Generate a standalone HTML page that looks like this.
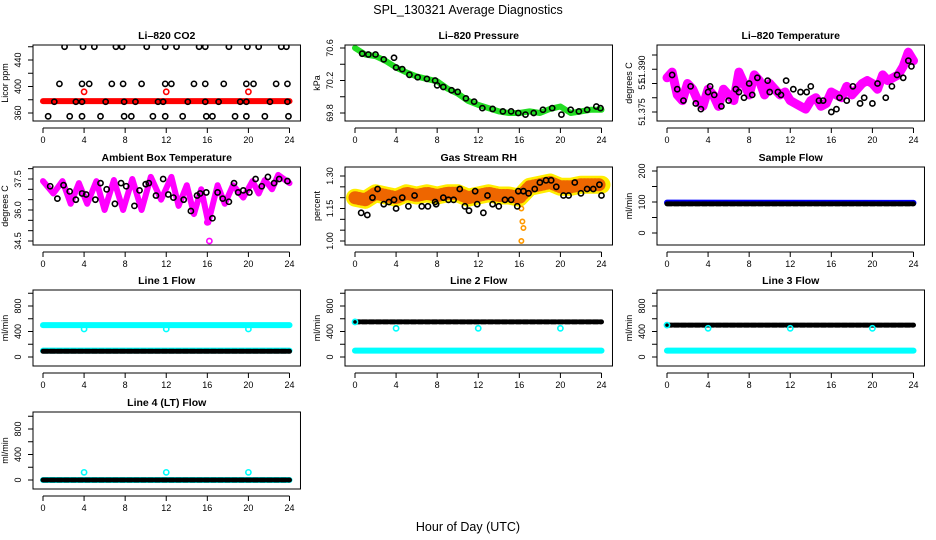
<!DOCTYPE html>
<html><head><meta charset="utf-8">
<style>
body{margin:0;background:#fff;}
svg{display:block;font-family:"Liberation Sans",Arial,sans-serif;}
</style></head>
<body>
<svg id="chart" width="936" height="540" viewBox="0 0 936 540" xmlns="http://www.w3.org/2000/svg">
<text x="468" y="14" text-anchor="middle" font-size="12.5">SPL_130321  Average Diagnostics</text>
<text x="468" y="531" text-anchor="middle" font-size="12.5">Hour of Day (UTC)</text>
</svg>
<script>
// ---- data ----
const xTicks=[0,4,8,12,16,20,24];
// CO2
const co2BandT=[0,24];
const co2BandV=[378,378];
const co2TopT=[2.1,3.9,5.0,7.1,7.7,10.1,11.9,13.0,15.2,15.8,18.1,19.9,21.0,23.2,23.7];
const co2MidT=[1.6,3.8,4.5,6.7,7.8,9.6,11.9,12.5,14.7,15.8,17.6,19.8,20.5,22.7,23.8];
const co2LowT=[1.1,3.2,3.8,6.1,7.9,9.0,11.2,11.7,14.1,15.8,17.1,19.2,19.8,22.1,23.8];
const co2BotT=[0.5,2.6,3.8,5.6,7.9,8.6,10.7,11.9,13.6,15.9,16.5,18.7,19.8,21.6,23.9];
const co2RedT=[4,12,20];
const co2Levels=[460,404,377,355,392];
// Pressure
const presT=[0,1,2,3,4,5,6,7,8,9,10,11,12,13,14,15,16,17,18,19,20,21,22,23,24];
const presV=[70.6,70.52,70.5,70.44,70.36,70.3,70.25,70.22,70.19,70.1,70.04,69.95,69.9,69.86,69.82,69.8,69.8,69.82,69.8,69.85,69.88,69.8,69.82,69.84,69.84];
const presCT=[0.7,1.3,2,2.8,3.8,4,4.6,5.3,6.1,7,7.8,8,8.6,9.4,10,10.8,11.6,12.4,13.4,14.4,15.2,15.9,16.6,17.4,18.3,19.2,20.1,21,21.8,22.6,23.5,23.9];
const presCV=[70.53,70.52,70.52,70.46,70.48,70.36,70.34,70.27,70.24,70.22,70.2,70.14,70.12,70.08,70.06,69.98,69.94,69.86,69.85,69.82,69.82,69.8,69.78,69.8,69.84,69.86,69.78,69.84,69.82,69.84,69.88,69.86];
// Li-820 temperature
const tmpT=[0,0.5,1,1.5,2,2.5,3,3.5,4,4.5,5,5.5,6,6.5,7,7.5,8,8.5,9,9.5,10,10.5,11,11.5,12,12.5,13,13.5,14,14.5,15,15.5,16,16.5,17,17.5,18,18.5,19,19.5,20,20.5,21,21.5,22,22.5,23,23.5,24];
const tmpV=[51.382,51.384,51.376,51.374,51.380,51.378,51.374,51.372,51.378,51.376,51.372,51.378,51.376,51.374,51.384,51.380,51.376,51.383,51.381,51.376,51.380,51.378,51.376,51.377,51.374,51.373,51.372,51.371,51.374,51.375,51.372,51.373,51.377,51.376,51.375,51.379,51.376,51.378,51.380,51.381,51.380,51.378,51.383,51.381,51.382,51.383,51.386,51.391,51.388];
const tmpCT=[0.5,1,1.6,2.3,2.8,3.3,4,4.2,4.6,5.3,6,6.7,7,7.5,8,8.3,8.8,9.8,10,10.8,11.1,11.6,12.3,13,13.6,14,14.8,15.2,16,16.5,16.8,17.5,18.1,18.8,19.2,20,20.5,21.3,21.9,22.4,23,23.5,23.8];
const tmpCV=[51.383,51.378,51.374,51.379,51.373,51.371,51.377,51.379,51.376,51.372,51.374,51.378,51.377,51.375,51.380,51.376,51.382,51.381,51.377,51.377,51.376,51.381,51.378,51.377,51.377,51.379,51.374,51.374,51.370,51.371,51.375,51.374,51.379,51.373,51.375,51.373,51.380,51.375,51.379,51.383,51.382,51.388,51.386];
// Ambient box temperature
const ambT=[0,1,1.9,2.7,3.5,4.3,5.2,6,6.9,7.8,8.7,9.6,10.5,11.5,12.5,13.2,14,14.7,15.4,16.1,17,17.7,18.5,19.5,20.4,21,21.6,22.3,22.9,24];
const ambV=[37.4,36.8,37.4,36.3,37.3,36.3,37.4,36.0,37.45,36.0,37.5,36.0,37.6,36.5,37.6,36.2,37.2,35.8,37.0,35.4,37.2,36.3,37.2,36.6,37.4,36.8,37.45,37.0,37.7,37.3];
const ambCT=[0.7,1.4,2,2.6,3.2,3.8,4.2,5.1,5.6,6.2,7,7.6,8.1,8.9,9.4,10,10.3,11,11.7,12.2,12.7,13.7,14.4,15,15.3,15.9,16.5,17,17.5,18.1,18.6,19,19.5,20.1,20.7,21.3,21.9,22.5,23,23.8];
const ambCV=[37.15,36.55,37.2,36.9,36.5,36.8,36.75,36.5,37.3,37.0,36.3,37.3,37.15,36.2,36.95,37.25,37.3,36.7,37.5,36.75,36.6,36.5,35.95,36.7,36.8,36.85,35.6,36.85,36.55,36.4,37.3,36.85,36.95,36.85,37.5,37.15,37.6,37.3,37.5,37.4];
const ambOutT=[16.2,16.0];
const ambOutV=[34.5,35.4];
// Gas stream RH
const rhT=[0,1,2,3,4,5,6,7,8,9,10,11,12,13,14,15,16,17,18,19,20,21,22,23,24];
const rhV=[1.2,1.19,1.22,1.21,1.2,1.22,1.21,1.22,1.21,1.22,1.22,1.2,1.21,1.22,1.21,1.21,1.2,1.25,1.26,1.27,1.25,1.25,1.26,1.26,1.26];
const rhCT=[0.6,1.2,1.7,2.2,2.8,3.3,3.8,4,4.6,5.2,5.8,6.5,7.1,7.8,7.9,8.6,9.1,9.6,10.2,10.7,11.1,11.7,11.9,12.5,12.9,13.4,14,14.6,15.2,15.8,15.9,16.4,16.9,17.5,18,18.6,19.1,19.6,20.3,20.8,21.4,22,22.6,23.2,23.8,24];
const rhCV=[1.13,1.12,1.2,1.24,1.17,1.18,1.19,1.15,1.20,1.16,1.21,1.16,1.16,1.18,1.17,1.2,1.19,1.19,1.24,1.16,1.14,1.23,1.17,1.13,1.21,1.17,1.16,1.19,1.19,1.16,1.23,1.23,1.22,1.24,1.27,1.28,1.28,1.25,1.21,1.21,1.27,1.22,1.24,1.24,1.26,1.21];
const rhOutT=[16.2,16.3,16.4,16.2];
const rhOutV=[1.15,1.09,1.06,1.0];
// Flows
const sampleBlueV=[98,97];
const sampleBlackV=[94,94];
const flowT=[0,24];
const l1Cyan=[500,500]; const l1CyanLow=[100,100]; const l1Black=[90,90];
const l2Cyan=[100,100]; const l2Black=[550,550];
const l3Cyan=[100,100]; const l3Black=[500,500];
const l4Cyan=[0,0]; const l4Black=[0,0];
const dipT=[4,12,20];
const l1Dip=[440,440,440]; const l2Dip=[450,450,450]; const l3Dip=[450,450,450]; const l4Dip=[120,120,120];

// ---- layout ----
const NS="http://www.w3.org/2000/svg";
const svg=document.getElementById('chart');
const colX0=[43,355,667];
const pxH=10.27;
const rowBox=[[45,121],[167,245],[290,366],[412,489]];
function el(tag,attrs,parent){const e=document.createElementNS(NS,tag);for(const k in attrs)e.setAttribute(k,attrs[k]);(parent||svg).appendChild(e);return e;}

function panel(name,col,row,title,ylab,ticks,labels,v1,p1,v2,p2){
  const g=el('g',{});
  
  
  const x0=colX0[col];const [top,bot]=rowBox[row];
  const left=x0-10,right=x0+24*pxH+11;
  const X=t=>x0+t*pxH;
  const Y=v=>p1+(v-v1)*(p2-p1)/(v2-v1);
  const clip='clip'+name;
  const cp=el('clipPath',{id:clip},g);el('rect',{x:left,y:top,width:right-left,height:bot-top},cp);
  const plot=el('g',{'clip-path':'url(#'+clip+')'},g);
  
  
  const box=el('rect',{x:left,y:top,width:right-left,height:bot-top,fill:'none',stroke:'#000','stroke-width':1},g);
  
  
  const t=el('text',{x:(left+right)/2,y:top-6,'text-anchor':'middle','font-size':'10.5','font-weight':'bold'},g);t.textContent=title;
  
  
  const xa=el('g',{},g);
  
  
  const ay=bot+7;
  el('line',{x1:X(0),x2:X(24),y1:ay,y2:ay,stroke:'#000'},xa);
  xTicks.forEach(tk=>{el('line',{x1:X(tk),x2:X(tk),y1:ay,y2:ay+5,stroke:'#000'},xa);
    const tl=el('text',{x:X(tk),y:ay+15,'text-anchor':'middle','font-size':'9'},xa);tl.textContent=tk;});
  const ya=el('g',{},g);
  
  
  const ax=left;
  ticks.forEach((tk,i)=>{const yy=Y(tk);el('line',{x1:ax,x2:ax-5,y1:yy,y2:yy,stroke:'#000'},ya);
    if(labels[i]){const lx=ax-12;const tl=el('text',{x:lx,y:yy,'text-anchor':'middle','font-size':'9',transform:`rotate(-90 ${lx} ${yy})`},ya);tl.textContent=labels[i];}});
  const ym=(top+bot)/2;
  const yl=el('text',{x:left-25,y:ym,'text-anchor':'middle','font-size':'9',transform:`rotate(-90 ${left-25} ${ym})`},g);yl.textContent=ylab;
  
  
  return {plot,X,Y};
}
function line(P,ts,vs,color,w,name,dash){
  const pts=ts.map((t,i)=>P.X(t).toFixed(1)+','+P.Y(vs[i]).toFixed(1)).join(' ');
  const a={points:pts,fill:'none',stroke:color,'stroke-width':w,'stroke-linejoin':'round','stroke-linecap':'round'};
  if(dash)a['stroke-dasharray']=dash;
  const e=el('polyline',a,P.plot);
  
  
  return e;
}
function pts(P,ts,vs,color,name,r,fill){
  const g=el('g',{},P.plot);
  
  
  ts.forEach((t,i)=>{el('circle',{cx:P.X(t),cy:P.Y(vs[i]),r:r||2.6,fill:fill||'none',stroke:color,'stroke-width':1.6},g);});
}
const rep=(v,n)=>Array(n).fill(v);

let P=panel('co2',0,0,'Li\u2013820 CO2','Licor ppm',[360,380,400,420,440,460],['360','','400','','440',''],360,113,440,60);
line(P,co2BandT,co2BandV,'#ff0000',6,'co2-band');
pts(P,co2TopT,rep(co2Levels[0],co2TopT.length),'#000','co2-points-high');
pts(P,co2MidT,rep(co2Levels[1],co2MidT.length),'#000','co2-points-mid');
pts(P,co2LowT,rep(co2Levels[2],co2LowT.length),'#000','co2-points-low');
pts(P,co2BotT,rep(co2Levels[3],co2BotT.length),'#000','co2-points-bottom');
pts(P,co2RedT,rep(co2Levels[4],co2RedT.length),'#ff0000','co2-red-points');

P=panel('pressure',1,0,'Li\u2013820 Pressure','kPa',[69.8,70.0,70.2,70.4,70.6],['69.8','','70.2','','70.6'],70.6,48,69.8,113);
line(P,presT,presV,'#22dd22',6,'pressure-band');
pts(P,presCT,presCV,'#000','pressure-points');

P=panel('temp',2,0,'Li\u2013820 Temperature','degrees C',[51.370,51.375,51.380,51.385,51.390],['51.375','','51.','51.390',''],51.370,112,51.390,55);
line(P,tmpT,tmpV,'#ff00ff',9,'temp-band');
pts(P,tmpCT,tmpCV,'#000','temp-points');

P=panel('ambient',0,1,'Ambient Box Temperature','degrees C',[34.5,35,35.5,36,36.5,37,37.5,38],['34.5','','','36.0','','','37.5',''],34.5,241,37.5,179);
line(P,ambT,ambV,'#ff00ff',6,'ambient-band');
pts(P,ambOutT,ambOutV,'#ff00ff','ambient-outliers');
pts(P,ambCT,ambCV,'#000','ambient-points');

P=panel('rh',1,1,'Gas Stream RH','percent',[1.0,1.05,1.1,1.15,1.2,1.25,1.3],['1.00','','','1.15','','','1.30'],1.0,241,1.3,176);
line(P,rhT,rhV,'#ffee00',18,'rh-band');
line(P,rhT,rhV,'#ee6600',13,'rh-band-dots','1 2.5');
pts(P,rhOutT,rhOutV,'#ff9900','rh-outliers',2.2);
pts(P,rhCT,rhCV,'#000','rh-points');

P=panel('sample-flow',2,1,'Sample Flow','ml/min',[0,50,100,150,200],['0','','100','','200'],0,233,200,171);
line(P,flowT,sampleBlueV,'#0000ff',6,'sample-flow-blue');
line(P,flowT,sampleBlackV,'#000',5,'sample-flow-black','5 2');

P=panel('line1',0,2,'Line 1 Flow','ml/min',[0,200,400,600,800,1000],['0','','400','','800',''],0,357,800,306);
line(P,flowT,l1Cyan,'#00ffff',6,'line1-cyan-high');
line(P,flowT,l1CyanLow,'#00ffff',6,'line1-cyan-low');
line(P,flowT,l1Black,'#000',5,'line1-black','5 2');
pts(P,dipT,l1Dip,'#00ffff','line1-dips');
P=panel('line2',1,2,'Line 2 Flow','ml/min',[0,200,400,600,800,1000],['0','','400','','800',''],0,357,800,306);
line(P,flowT,l2Cyan,'#00ffff',6,'line2-cyan');
line(P,flowT,l2Black,'#000',5,'line2-black','5 2');
pts(P,[0],[550],'#00ffff','line2-start');
pts(P,dipT,l2Dip,'#00ffff','line2-dips');
P=panel('line3',2,2,'Line 3 Flow','ml/min',[0,200,400,600,800,1000],['0','','400','','800',''],0,357,800,306);
line(P,flowT,l3Cyan,'#00ffff',6,'line3-cyan');
line(P,flowT,l3Black,'#000',5,'line3-black','5 2');
pts(P,[0],[500],'#00ffff','line3-start');
pts(P,dipT,l3Dip,'#00ffff','line3-dips');
P=panel('line4',0,3,'Line 4 (LT) Flow','ml/min',[0,200,400,600,800,1000],['0','','400','','800',''],0,480,800,429);
line(P,flowT,l4Cyan,'#00ffff',6,'line4-cyan');
line(P,flowT,l4Black,'#000',5,'line4-black','5 2');
pts(P,dipT,l4Dip,'#00ffff','line4-dips');
</script>
</body></html>
